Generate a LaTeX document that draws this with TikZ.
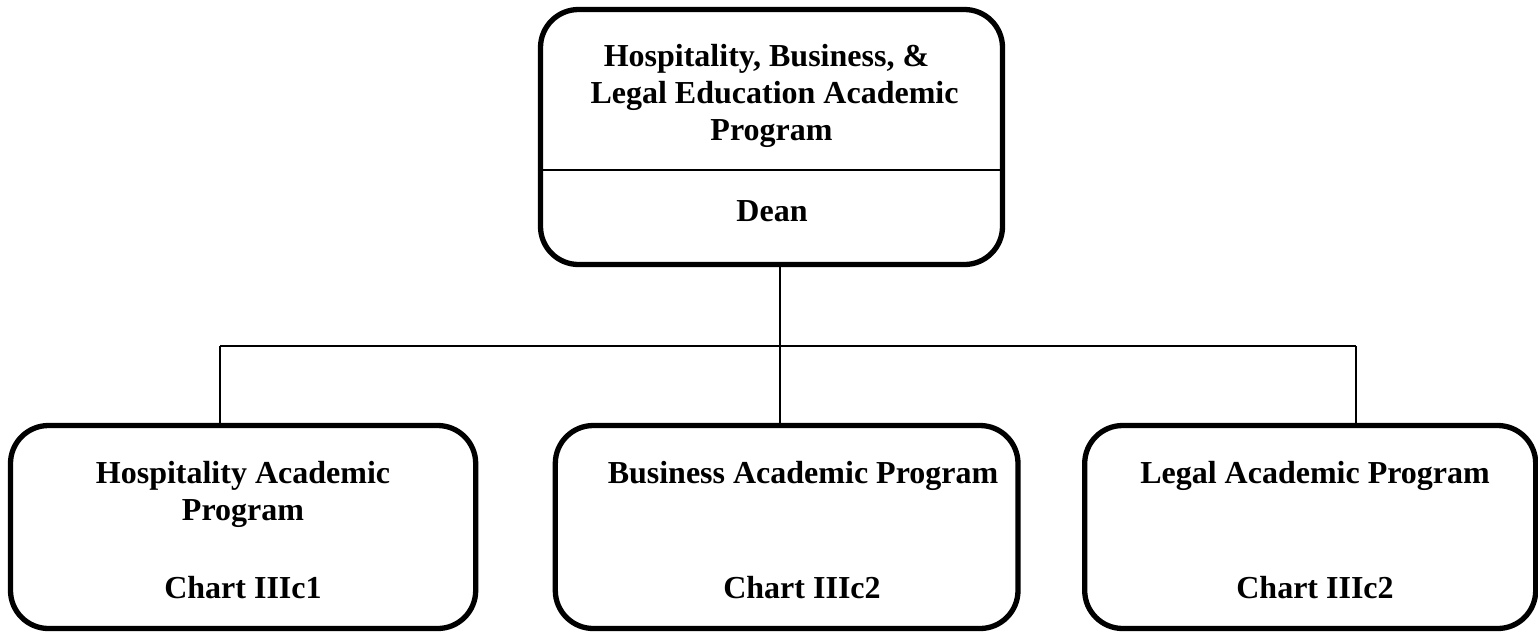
\documentclass[tikz,border=0pt]{standalone}
\usepackage{fontspec}
\setmainfont{Liberation Serif}
\begin{document}
\begin{tikzpicture}[x=1pt,y=-1pt,
  box/.style={draw=black, line width=5.3pt, rounded corners=38pt, rectangle, inner sep=0pt, outer sep=0pt},
  thin/.style={line width=1.8pt},
  txt/.style={anchor=base, inner sep=0pt, font=\fontsize{32}{37}\selectfont\bfseries}]
\useasboundingbox (0,0) rectangle (1538,633);
% boxes
\node[box, minimum width=462pt, minimum height=255pt] (top) at (771.5,137) {};
\node[box, minimum width=465.2pt, minimum height=203pt] (left) at (243.1,527) {};
\node[box, minimum width=462.7pt, minimum height=203pt] (mid) at (786.65,527) {};
\node[box, minimum width=451pt, minimum height=203pt] (right) at (1310.2,527) {};
% divider
\coordinate (dv) at (0,170);
\draw[thin] (top.west |- dv) -- (top.east |- dv);
% texts
\node[txt] (t1) at (766.5,66) {Hospitality, Business, \&};
\node[txt] (t2) at (774.5,103) {Legal Education Academic};
\node[txt] (t3) at (771.5,140) {Program};
\node[txt] (t4) at (772,221) {Dean};
\node[txt] (l1) at (243,483) {Hospitality Academic};
\node[txt] (l2) at (243,520) {Program};
\node[txt] (l3) at (243,598) {Chart IIIc1};
\node[txt] (m1) at (803,483) {Business Academic Program};
\node[txt] (m3) at (802,598) {Chart IIIc2};
\node[txt] (r1) at (1315,483) {Legal Academic Program};
\node[txt] (r3) at (1315,598) {Chart IIIc2};
% connectors
\coordinate (hl) at (220,346);
\coordinate (hm) at (780,346);
\coordinate (hr) at (1356,346);
\draw[thin] (top.south -| hm) -- (hm);
\draw[thin] (hl) -- (hr);
\draw[thin] (hl) -- (hl |- left.north);
\draw[thin] (hm) -- (hm |- mid.north);
\draw[thin] (hr) -- (hr |- right.north);
\end{tikzpicture}
\end{document}
